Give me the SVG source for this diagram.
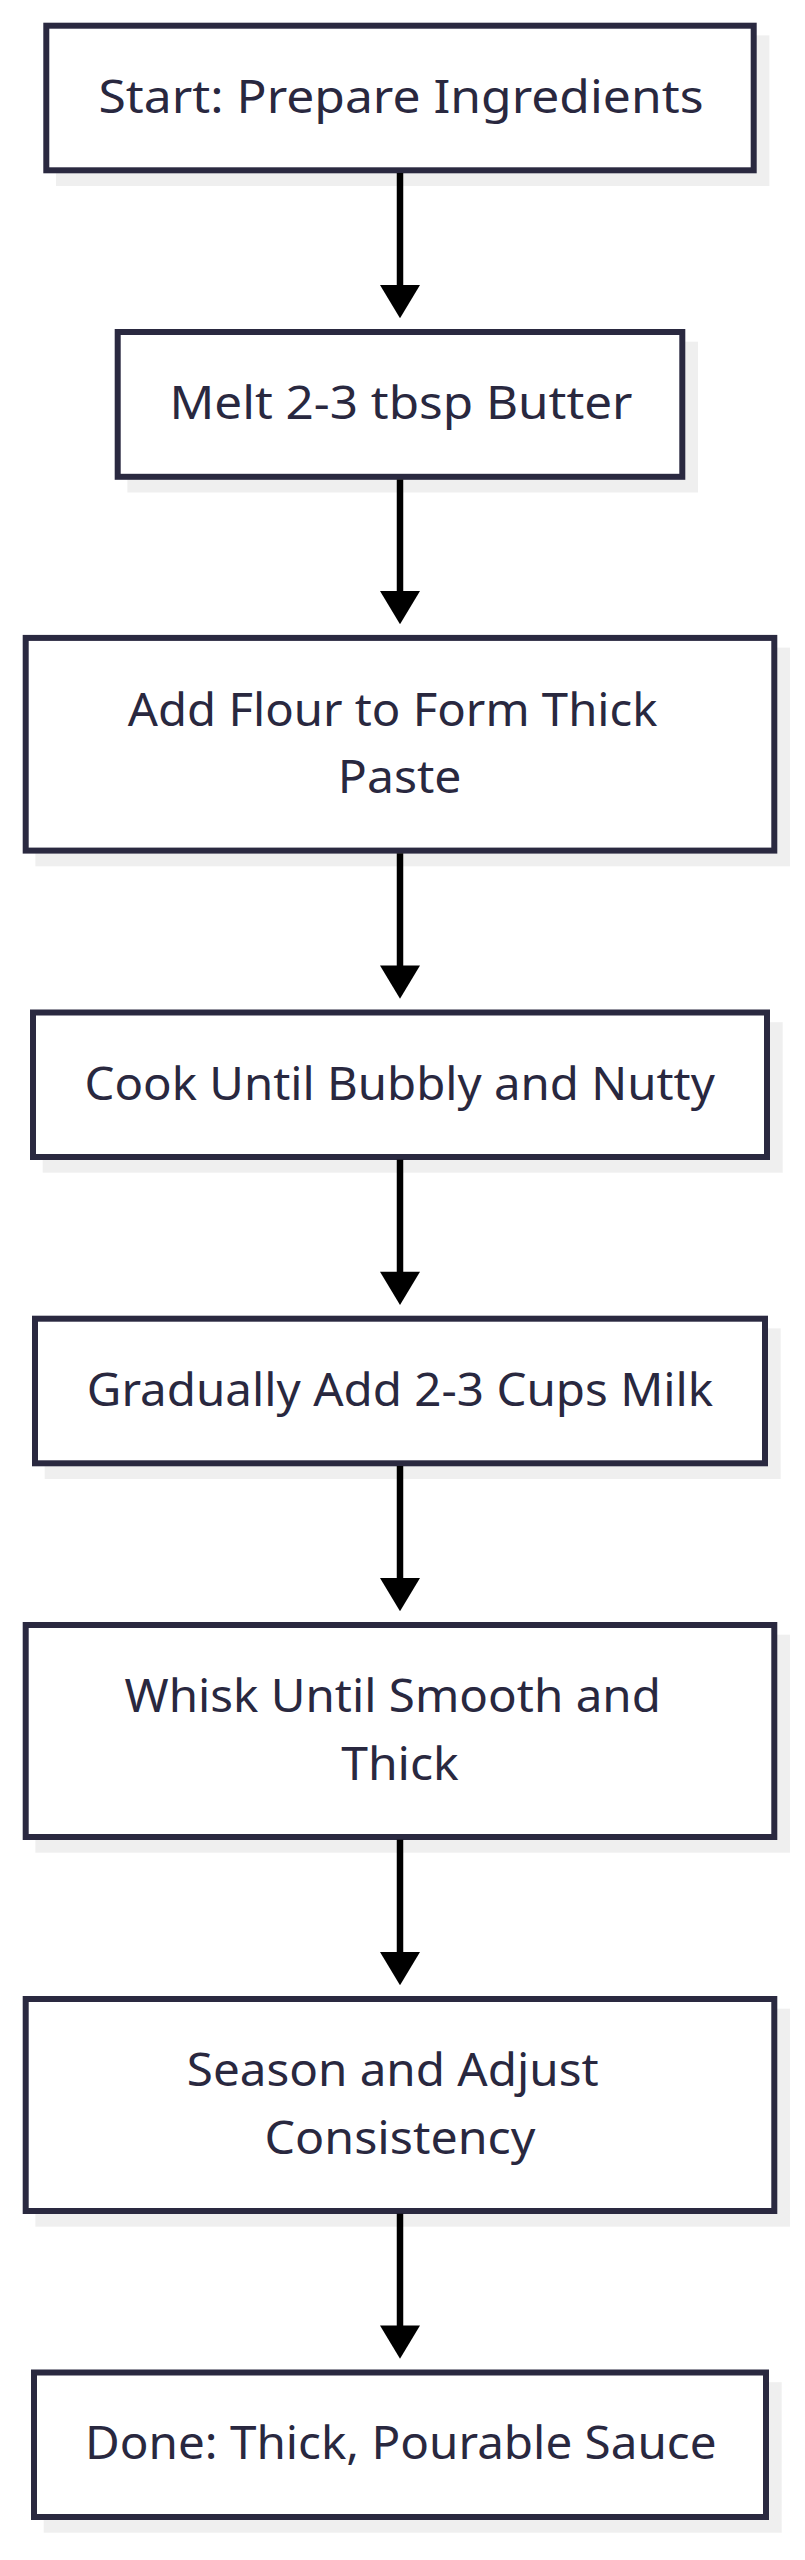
<svg xmlns="http://www.w3.org/2000/svg" width="805" height="2560" viewBox="0 0 805 2560">
<style>
  .shadow { fill: #efefef; stroke: none; }
  .box { fill: #ffffff; stroke: #2a2940; stroke-width: 6; }
  .label { font-family: "Noto Sans", "Open Sans", "Liberation Sans", sans-serif; font-size: 46px; fill: #29283f; }
  .edge { stroke: #000000; stroke-width: 6.5; fill: none; }
  .head { fill: #000000; }
</style>
<rect width="805" height="2560" fill="#ffffff"/>
<g id="start">
  <rect class="shadow" x="56" y="35.4" width="713.4" height="150.6"/>
  <rect class="box" x="46.3" y="25.7" width="707.4" height="144.6"/>
  <text class="label" x="98.5" y="112.5" textLength="605" lengthAdjust="spacingAndGlyphs">Start: Prepare Ingredients</text>
</g>
<g id="melt">
  <rect class="shadow" x="127.4" y="341.7" width="570.6" height="150.8"/>
  <rect class="box" x="117.7" y="332" width="564.6" height="144.8"/>
  <text class="label" x="169.5" y="418.9" textLength="463" lengthAdjust="spacingAndGlyphs">Melt 2-3 tbsp Butter</text>
</g>
<g id="flour">
  <rect class="shadow" x="35.4" y="647.6" width="754.6" height="218.7"/>
  <rect class="box" x="25.7" y="637.9" width="748.6" height="212.7"/>
  <text class="label" x="127.8" y="725.6" textLength="529.7" lengthAdjust="spacingAndGlyphs">Add Flour to Form Thick</text>
  <text class="label" x="337.8" y="793.1" textLength="123.7" lengthAdjust="spacingAndGlyphs">Paste</text>
</g>
<g id="cook">
  <rect class="shadow" x="42.7" y="1022.2" width="740" height="150.5"/>
  <rect class="box" x="33" y="1012.5" width="734" height="144.5"/>
  <text class="label" x="84.5" y="1099.6" textLength="630.3" lengthAdjust="spacingAndGlyphs">Cook Until Bubbly and Nutty</text>
</g>
<g id="milk">
  <rect class="shadow" x="44.7" y="1328.4" width="736" height="150.6"/>
  <rect class="box" x="35" y="1318.7" width="730" height="144.6"/>
  <text class="label" x="86.8" y="1405.8" textLength="626.4" lengthAdjust="spacingAndGlyphs">Gradually Add 2-3 Cups Milk</text>
</g>
<g id="whisk">
  <rect class="shadow" x="35.4" y="1634.7" width="754.6" height="218"/>
  <rect class="box" x="25.7" y="1625" width="748.6" height="212"/>
  <text class="label" x="124.5" y="1712.2" textLength="536.4" lengthAdjust="spacingAndGlyphs">Whisk Until Smooth and</text>
  <text class="label" x="341.2" y="1779.7" textLength="117.6" lengthAdjust="spacingAndGlyphs">Thick</text>
</g>
<g id="season">
  <rect class="shadow" x="35.4" y="2008.7" width="754.6" height="218"/>
  <rect class="box" x="25.7" y="1999" width="748.6" height="212"/>
  <text class="label" x="186.8" y="2086.2" textLength="411.8" lengthAdjust="spacingAndGlyphs">Season and Adjust</text>
  <text class="label" x="264.5" y="2153.7" textLength="271" lengthAdjust="spacingAndGlyphs">Consistency</text>
</g>
<g id="done">
  <rect class="shadow" x="43.7" y="2382.2" width="738" height="150.5"/>
  <rect class="box" x="34" y="2372.5" width="732" height="144.5"/>
  <text class="label" x="85.1" y="2459.3" textLength="631.4" lengthAdjust="spacingAndGlyphs">Done: Thick, Pourable Sauce</text>
</g>
<g id="connectors">
  <line class="edge" x1="400" y1="173" x2="400" y2="288"/>
  <polygon class="head" points="380,285 420,285 400,318.3"/>
  <line class="edge" x1="400" y1="479.5" x2="400" y2="594"/>
  <polygon class="head" points="380,590.9 420,590.9 400,624.2"/>
  <line class="edge" x1="400" y1="853.3" x2="400" y2="968.5"/>
  <polygon class="head" points="380,965.5 420,965.5 400,998.8"/>
  <line class="edge" x1="400" y1="1159.7" x2="400" y2="1274.7"/>
  <polygon class="head" points="380,1271.7 420,1271.7 400,1305"/>
  <line class="edge" x1="400" y1="1466" x2="400" y2="1581"/>
  <polygon class="head" points="380,1578 420,1578 400,1611.3"/>
  <line class="edge" x1="400" y1="1839.7" x2="400" y2="1955"/>
  <polygon class="head" points="380,1952 420,1952 400,1985.3"/>
  <line class="edge" x1="400" y1="2213.7" x2="400" y2="2328.5"/>
  <polygon class="head" points="380,2325.5 420,2325.5 400,2358.8"/>
</g>
</svg>
